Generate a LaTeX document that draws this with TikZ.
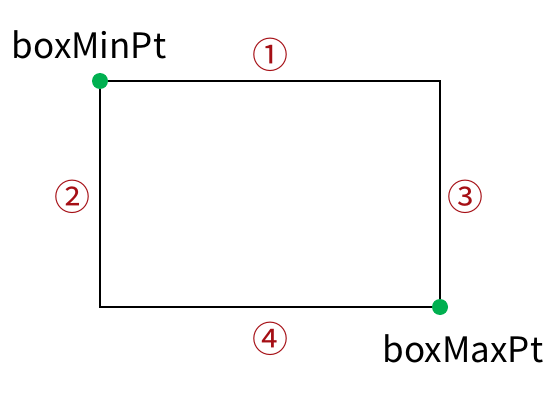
\documentclass[tikz,border=0pt]{standalone}
\usepackage{fontspec}
\setmainfont{Noto Sans CJK KR}
\usepackage{tikz}
\definecolor{ptgreen}{HTML}{00B050}
\definecolor{numred}{HTML}{A50F15}
\tikzset{
  corner/.style={circle,fill=ptgreen,inner sep=0pt,minimum size=16pt},
  ptlabel/.style={font=\fontsize{35}{38}\selectfont,inner sep=0pt},
  edgenum/.style={text=numred,font=\fontsize{36}{38}\selectfont,inner sep=0pt}
}
\begin{document}
\begin{tikzpicture}[x=1pt,y=-1pt]
	\useasboundingbox (0,0) rectangle (560,404);
	\coordinate (minPt) at (100,81);
	\coordinate (maxPt) at (440,307);
	\draw[line width=1.5pt] (minPt) rectangle (maxPt);
	\node[corner] (minDot) at (minPt) {};
	\node[corner] (maxDot) at (maxPt) {};
        \node[ptlabel] (minLabel) at (89,45) {boxMinPt};
        \node[ptlabel] (maxLabel) at (463,349) {boxMaxPt};
        \node[edgenum] (top) at (270,55) {①};
        \node[edgenum] (left) at (72,197) {②};
        \node[edgenum] (right) at (465,197) {③};
        \node[edgenum] (bottom) at (270,339) {④};
    \end{tikzpicture}
\end{document}
